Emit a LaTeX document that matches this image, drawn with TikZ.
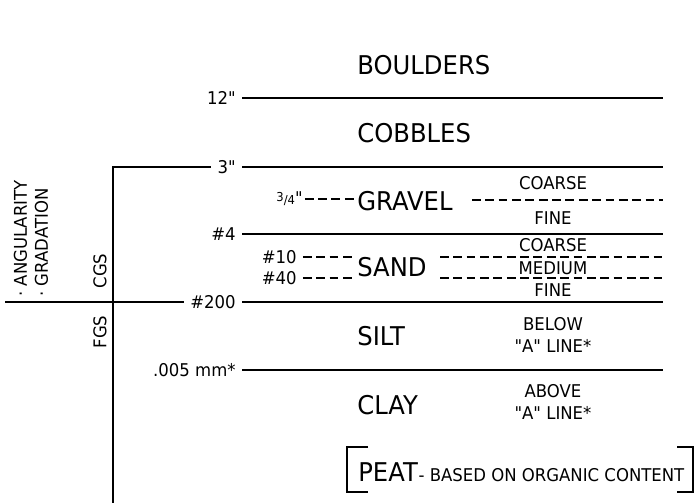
\documentclass[tikz,border=0pt]{standalone}
\usepackage{fontspec}
\setmainfont{DejaVu Sans}[FakeStretch=0.94, Ligatures=TeXOff]
\usetikzlibrary{positioning}

\tikzset{
  bound/.style={line width=1.1pt},
  sub/.style={line width=1pt, dash pattern=on 5pt off 2.6pt},
  big/.style={font=\fontsize{14.7}{17}\selectfont, inner sep=0pt, anchor=west},
  small/.style={font=\fontsize{10}{13}\selectfont, inner sep=0pt},
  cut/.style={small, anchor=east, inner xsep=3.4pt},
}
\newcommand{\tinyfrac}[2]{{\fontsize{7}{8}\selectfont\raisebox{0.5ex}{#1}/#2}}

\begin{document}
\begin{tikzpicture}[x=0.02cm,y=-0.02cm]
    \useasboundingbox (0,0) rectangle (697,503);

    % 右端点
    \coordinate (r12) at (663,98);
    \coordinate (r3) at (663,167);
    \coordinate (r4) at (663,234);
    \coordinate (r200) at (663,302);
    \coordinate (r005) at (663,370);
    \coordinate (vb) at (113,503);
    \coordinate (hl) at (5,302);

    % 土类名称
    \node[big] (boulders) at (357,65) {BOULDERS};
    \node[big] (cobbles) at (357,133) {COBBLES};
    \node[big] (gravel) at (357,201) {GRAVEL};
    \node[big] (sand) at (357,267) {SAND};
    \node[big] (silt) at (357,336) {SILT};
    \node[big] (clay) at (357,405) {CLAY};

    % 分界粒径
    \node[cut] (l12) at (242,98) {12"};
    \node[cut] (l3) at (242,167) {3"};
    \node[cut] (l4) at (242,234) {\#4};
    \node[cut] (l200) at (242,302) {\#200};
    \node[cut] (l005) at (242,370) {.005 mm*};

    \draw[bound] (l12.east) -- (r12);
    \draw[bound] (vb) |- (l3.west);
    \draw[bound] (l3.east) -- (r3);
    \draw[bound] (l4.east) -- (r4);
    \draw[bound] (hl) -- (l200.west);
    \draw[bound] (l200.east) -- (r200);
    \draw[bound] (l005.east) -- (r005);

    % 细分
    \node[small, anchor=east] (l34) at (303,199) {\tinyfrac{3}{4}"};
    \node[small, anchor=east] (l10) at (297,257) {\#10};
    \node[small, anchor=east] (l40) at (297,278) {\#40};
    \draw[sub, shorten <=1pt, shorten >=1pt] (l34.east) -- (l34.east -| gravel.west);
    \draw[sub, shorten <=3.4pt, shorten >=2.8pt] (l10.east) -- (l10.east -| sand.west);
    \draw[sub, shorten <=3.4pt, shorten >=2.8pt] (l40.east) -- (l40.east -| sand.west);

    \coordinate (ga) at (472,200);
    \coordinate (gb) at (663,200);
    \coordinate (sa) at (440,257);
    \coordinate (sb) at (663,257);
    \coordinate (ta) at (440,278);
    \coordinate (tb) at (663,278);
    \draw[sub] (ga) -- (gb);
    \draw[sub] (sa) -- (sb);
    \draw[sub] (ta) -- (tb);

    \node[small] (gcoarse) at (553,183) {COARSE};
    \node[small] (gfine) at (553,218) {FINE};
    \node[small] (scoarse) at (553,245) {COARSE};
    \node[small] (smedium) at (553,268) {MEDIUM};
    \node[small] (sfine) at (553,290) {FINE};
    \node[small, align=center] (siltnote) at (553,335) {BELOW\\"A" LINE*};
    \node[small, align=center] (claynote) at (553,402) {ABOVE\\"A" LINE*};

    % 泥炭
    \node[big, anchor=base west] (peat) at (358,481) {PEAT};
    \node[small, anchor=base west] (peatnote) at (peat.base east) {- BASED ON ORGANIC CONTENT};
    \draw[bound] (368,447) -- (347,447) -- (347,492) -- (368,492);
    \draw[bound] (677,447) -- (693,447) -- (693,492) -- (677,492);

    % 竖排文字
    \node[small, rotate=90, anchor=base west] (angul) at (27,297) {· ANGULARITY};
    \node[small, rotate=90, anchor=base west] (gradat) at (48,297) {· GRADATION};
    \node[small, rotate=90] (cgs) at (100,271) {CGS};
    \node[small, rotate=90] (fgs) at (100,332) {FGS};

\end{tikzpicture}
\end{document}
